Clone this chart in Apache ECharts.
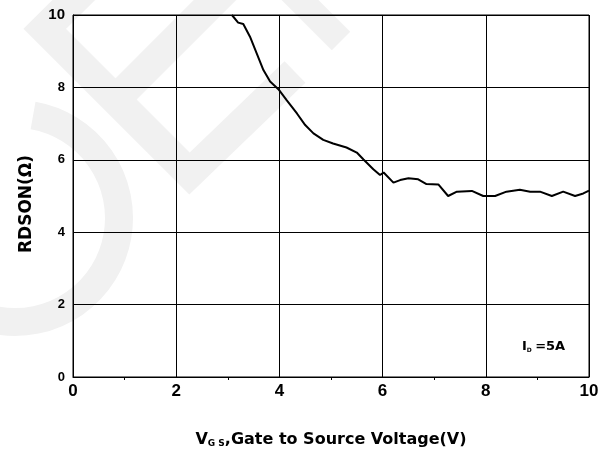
<!DOCTYPE html>
<html>
<head>
<meta charset="utf-8">
<script src="https://cdn.jsdelivr.net/npm/echarts@6/dist/echarts.min.js"></script>
<style>
html,body{margin:0;padding:0;background:#fff;}
#chart{width:608px;height:455px;}
</style>
</head>
<body>
<div id="chart"></div>
<script>
// Data
var vgs = [3.08, 3.2, 3.3, 3.43, 3.56, 3.69, 3.82, 3.98, 4.14, 4.34, 4.5, 4.66, 4.85, 5.04, 5.3, 5.5, 5.63, 5.82, 5.95, 6.02, 6.21, 6.34, 6.5, 6.69, 6.85, 7.08, 7.27, 7.44, 7.73, 7.95, 8.18, 8.4, 8.66, 8.86, 9.05, 9.28, 9.5, 9.73, 9.89, 10.0];
var rdson = [10.0, 9.79, 9.75, 9.4, 8.94, 8.48, 8.16, 7.95, 7.65, 7.28, 6.96, 6.73, 6.55, 6.45, 6.34, 6.2, 6.01, 5.74, 5.58, 5.65, 5.37, 5.44, 5.49, 5.46, 5.33, 5.32, 5.0, 5.12, 5.14, 5.0, 5.0, 5.12, 5.17, 5.12, 5.12, 5.0, 5.12, 5.0, 5.07, 5.15];
var xTicks = [0, 2, 4, 6, 8, 10];
var yTicks = [0, 2, 4, 6, 8, 10];
var xName = '{b|V}{s|G S}{b|,Gate to Source Voltage(V)}';
var yName = 'RDSON(\u03A9)';
var noteText = '{b|I}{s|D} {b|=5A}';

var seriesData = vgs.map(function (x, i) { return [x, rdson[i]]; });

var chart = echarts.init(document.getElementById('chart'), null, {renderer: 'canvas'});
var wm = '#f1f1f1';
var nameFont = 'DejaVu Sans';
var tickFont = 'Liberation Sans';

chart.setOption({
  animation: false,
  backgroundColor: '#fff',
  graphic: [
    {type: 'polyline', z: -10, silent: true,
     shape: {points: [[95, -21], [44.75, 28.75], [189.5, 173.5], [295, 72]]},
     style: {stroke: wm, fill: null, lineWidth: 30, lineJoin: 'miter', lineCap: 'butt'}},
    {type: 'polyline', z: -10, silent: true,
     shape: {points: [[115.5, 99.5], [235, -20]]},
     style: {stroke: wm, fill: null, lineWidth: 30, lineCap: 'butt'}},
    {type: 'polyline', z: -10, silent: true,
     shape: {points: [[285, -15], [341, 41]]},
     style: {stroke: wm, fill: null, lineWidth: 26, lineCap: 'butt'}},
    {type: 'arc', z: -10, silent: true,
     shape: {cx: 15, cy: 218, r: 104, startAngle: -80 * Math.PI / 180, endAngle: 160 * Math.PI / 180, clockwise: true},
     style: {stroke: wm, fill: null, lineWidth: 28, lineCap: 'butt'}},
    {type: 'text', z: 10, left: 522, top: 340,
     style: {text: noteText, fill: '#000',
       rich: {
         b: {fontFamily: nameFont, fontWeight: 'bold', fontSize: 13, fill: '#000', verticalAlign: 'bottom', lineHeight: 15},
         s: {fontFamily: nameFont, fontWeight: 'bold', fontSize: 6, fill: '#000', verticalAlign: 'bottom', lineHeight: 9}
       }}}
  ],
  grid: {left: 73, right: 19, top: 15, bottom: 78, show: true, borderColor: '#000', borderWidth: 1, backgroundColor: 'transparent'},
  xAxis: {
    type: 'value', min: xTicks[0], max: xTicks[xTicks.length - 1], interval: xTicks[1] - xTicks[0],
    name: xName, nameLocation: 'middle', nameGap: 53,
    nameTextStyle: {
      color: '#000',
      rich: {
        b: {fontFamily: nameFont, fontWeight: 'bold', fontSize: 16, color: '#000', verticalAlign: 'bottom', lineHeight: 18},
        s: {fontFamily: nameFont, fontWeight: 'bold', fontSize: 9, color: '#000', verticalAlign: 'bottom', lineHeight: 14}
      }
    },
    axisLine: {show: true, onZero: false, lineStyle: {color: '#000', width: 1}},
    axisTick: {show: false, inside: true},
    minorTick: {show: true, splitNumber: 2, length: -3, lineStyle: {color: '#000', width: 1}},
    splitLine: {show: true, lineStyle: {color: '#000', width: 1}},
    axisLabel: {color: '#000', fontFamily: tickFont, fontWeight: 'bold', fontSize: 17, margin: 6}
  },
  yAxis: {
    type: 'value', min: yTicks[0], max: yTicks[yTicks.length - 1], interval: yTicks[1] - yTicks[0],
    name: yName, nameLocation: 'middle', nameGap: 38,
    nameTextStyle: {color: '#000', fontFamily: nameFont, fontWeight: 'bold', fontSize: 17, padding: [0, 16, 0, 0]},
    axisLine: {show: true, lineStyle: {color: '#000', width: 1}},
    axisTick: {show: false},
    splitLine: {show: true, lineStyle: {color: '#000', width: 1}},
    axisLabel: {
      color: '#000', fontFamily: tickFont, fontWeight: 'bold', fontSize: 13, margin: 8,
      formatter: function (v) { return v === 10 ? '{big|10}' : String(v); },
      rich: {big: {fontFamily: tickFont, fontWeight: 'bold', fontSize: 15, color: '#000'}}
    }
  },
  series: [{
    type: 'line', data: seriesData, showSymbol: false, symbol: 'none', clip: true,
    lineStyle: {color: '#000', width: 2}, z: 5
  }]
});
</script>
</body>
</html>
